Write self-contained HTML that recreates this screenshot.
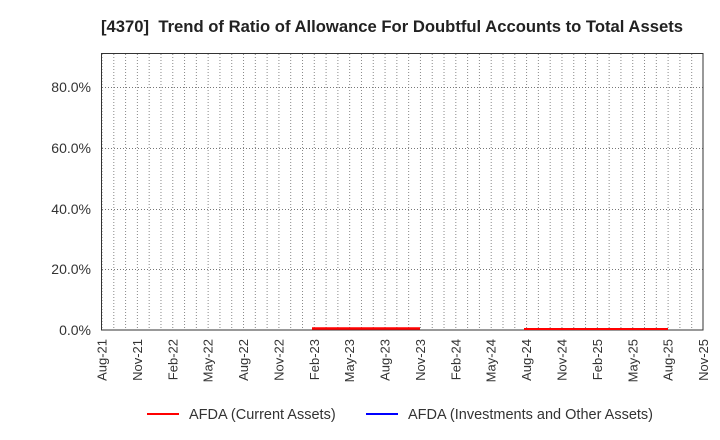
<!DOCTYPE html>
<html><head><meta charset="utf-8"><style>body{margin:0;background:#fff}svg{display:block;font-family:"Liberation Sans",sans-serif}</style></head>
<body>
<svg width="720" height="440" viewBox="0 0 720 440" xmlns="http://www.w3.org/2000/svg">
<defs>
<pattern id="vg" x="101.5" y="0" width="11.794" height="3" patternUnits="userSpaceOnUse">
<line x1="0.5" y1="0" x2="0.5" y2="1" stroke="#888" stroke-width="1"/>
</pattern>
</defs>
<text x="101" y="32" font-size="16.5" font-weight="bold" fill="#222" xml:space="preserve" textLength="582" lengthAdjust="spacingAndGlyphs">[4370]  Trend of Ratio of Allowance For Doubtful Accounts to Total Assets</text>
<rect x="102" y="53" width="601" height="277" fill="url(#vg)"/>
<g stroke="#777" stroke-dasharray="1,2" stroke-width="1">
<line x1="102" y1="87.5" x2="703" y2="87.5"/>
<line x1="102" y1="148.5" x2="703" y2="148.5"/>
<line x1="102" y1="209.5" x2="703" y2="209.5"/>
<line x1="102" y1="269.5" x2="703" y2="269.5"/>
</g>
<rect x="101.5" y="53.5" width="601.5" height="276.5" fill="none" stroke="#333" stroke-width="1"/>
<g font-size="14" fill="#333" text-anchor="end">
<text x="91" y="92">80.0%</text>
<text x="91" y="153">60.0%</text>
<text x="91" y="214">40.0%</text>
<text x="91" y="274">20.0%</text>
<text x="91" y="335">0.0%</text>
</g>
<line x1="312" y1="328.5" x2="420" y2="328.5" stroke="#f00" stroke-width="2.5"/>
<line x1="524" y1="329" x2="668" y2="329" stroke="#f00" stroke-width="2"/>
<g font-size="13" fill="#333" text-anchor="end">
<text transform="translate(106.5,339) rotate(-90)">Aug-21</text>
<text transform="translate(141.9,339) rotate(-90)">Nov-21</text>
<text transform="translate(177.3,339) rotate(-90)">Feb-22</text>
<text transform="translate(212.6,339) rotate(-90)">May-22</text>
<text transform="translate(248,339) rotate(-90)">Aug-22</text>
<text transform="translate(283.4,339) rotate(-90)">Nov-22</text>
<text transform="translate(318.8,339) rotate(-90)">Feb-23</text>
<text transform="translate(354.2,339) rotate(-90)">May-23</text>
<text transform="translate(389.6,339) rotate(-90)">Aug-23</text>
<text transform="translate(425,339) rotate(-90)">Nov-23</text>
<text transform="translate(460.3,339) rotate(-90)">Feb-24</text>
<text transform="translate(495.7,339) rotate(-90)">May-24</text>
<text transform="translate(531.1,339) rotate(-90)">Aug-24</text>
<text transform="translate(566.5,339) rotate(-90)">Nov-24</text>
<text transform="translate(601.9,339) rotate(-90)">Feb-25</text>
<text transform="translate(637.3,339) rotate(-90)">May-25</text>
<text transform="translate(672.7,339) rotate(-90)">Aug-25</text>
<text transform="translate(708,339) rotate(-90)">Nov-25</text>
</g>
<line x1="147" y1="414" x2="179" y2="414" stroke="#f00" stroke-width="2"/>
<text x="189" y="419" font-size="14.5" fill="#333">AFDA (Current Assets)</text>
<line x1="366" y1="414" x2="398" y2="414" stroke="#00f" stroke-width="2"/>
<text x="408" y="419" font-size="14.5" fill="#333">AFDA (Investments and Other Assets)</text>
</svg>
</body></html>
